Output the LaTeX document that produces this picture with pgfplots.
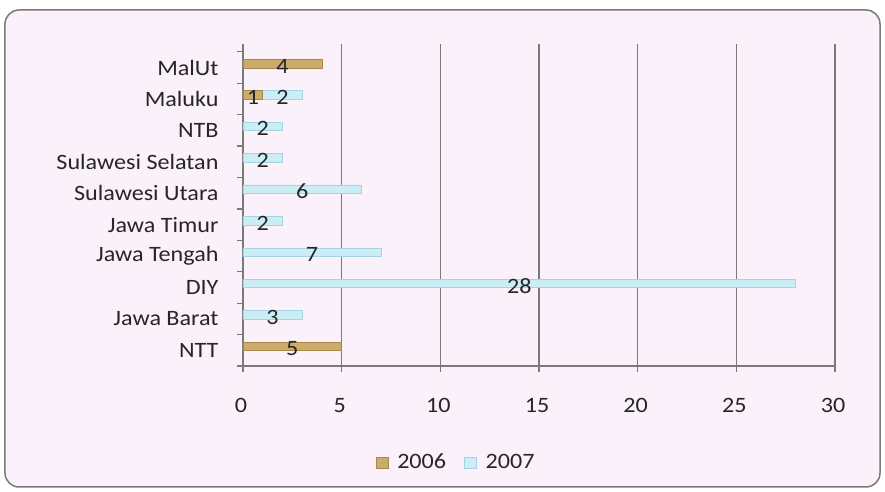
\documentclass[border=0pt]{standalone}
\usepackage{fontspec}
\setmainfont{Carlito}[FakeStretch=1.1]
\usepackage{pgfplots}
\pgfplotsset{compat=1.18}
\usetikzlibrary{backgrounds}
\definecolor{bg}{RGB}{250,241,250}
\definecolor{gold}{RGB}{204,172,108}
\definecolor{goldd}{RGB}{170,135,70}
\definecolor{sky}{RGB}{203,237,246}
\definecolor{skyd}{RGB}{165,212,228}
\definecolor{grd}{RGB}{122,122,122}
\begin{document}
\fontsize{22}{26}\selectfont
\begin{tikzpicture}[x=1bp,y=1bp]
\begin{axis}[
  name=ax,
  scale only axis, width=592bp, height=322bp,
  xmin=0, xmax=30, ymin=-0.5, ymax=9.75,
  xbar stacked, bar width=8.5bp, bar shift=4bp,
  axis lines*=left,
  axis line style={grd, line width=1.3bp},
  xtick={0,5,...,30},
  xmajorgrids, grid style={grd, line width=1.3bp},
  tick align=outside, major tick length=6bp,
  tick style={grd, line width=1.3bp},
  ytick={-0.5,0.5,1.5,2.5,3.5,4.5,5.5,6.5,7.5,8.5,9.5},
  yticklabels={},
  extra y ticks={0,1,2,3,4,5,6,7,8,9},
  extra y tick labels={NTT,Jawa Barat,DIY,Jawa Tengah,Jawa Timur,Sulawesi Utara,Sulawesi Selatan,NTB,Maluku,MalUt},
  extra y tick style={tick style={draw=none}, tick label style={xshift=-11bp}},
  xticklabel style={yshift=-19bp, xshift=-2bp},
  /pgf/number format/assume math mode=true,
  every tick label/.append style={font=\fontsize{22}{26}\selectfont, text=black!85},
  legend style={at={(0.36,-0.301)}, anchor=center, draw=none, fill=none,
    legend columns=2, font=\fontsize{22}{26}\selectfont, text=black!85,
    /tikz/every even column/.append style={column sep=16bp},
    legend cell align=left},
  legend image code/.code={\fill[#1] (0bp,-5.5bp) rectangle (12bp,5.5bp); \path (19bp,0bp);},
]
\coordinate (O) at (rel axis cs:0,0);
\addplot[fill=gold, draw=goldd, line width=0.5bp] coordinates {(5,0) (0,1) (0,2) (0,3) (0,4) (0,5) (0,6) (0,7) (1,8) (4,9)};
\addlegendentry{2006}
\addplot[fill=sky, draw=skyd, line width=0.5bp] coordinates {(0,0) (3,1) (28,2) (7,3) (2,4) (6,5) (2,6) (2,7) (2,8) (0,9)};
\addlegendentry{2007}
\end{axis}
\begin{axis}[
  scale only axis, width=592bp, height=322bp,
  xmin=0, xmax=30, ymin=-0.5, ymax=9.75,
  hide axis,
]
\addplot[draw=none, mark=none, nodes near coords, point meta=explicit symbolic,
  nodes near coords style={anchor=center, font=\fontsize{22}{26}\selectfont, text=black!85}]
  coordinates {(2.5,0.05)[5] (1.5,1.05)[3] (14,2.05)[28] (3.5,3.05)[7] (1,4.05)[2] (3,5.05)[6] (1,6.05)[2] (1,7.05)[2] (0.5,8.05)[1] (2,8.05)[2] (2,9.05)[4]};
\end{axis}
\begin{scope}[on background layer, shift={(O)}]
\fill[white] (-243,-126) rectangle (642,366);
\draw[grd, line width=1.5bp, fill=bg, rounded corners=14bp] (-238,-121) rectangle (637,356);
\end{scope}
\pgfresetboundingbox
\path[use as bounding box, shift={(O)}] (-243,-126) rectangle (642,366);
\end{tikzpicture}
\end{document}
